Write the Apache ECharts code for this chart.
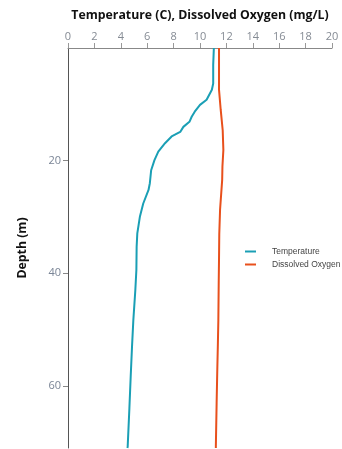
<!DOCTYPE html>
<html>
<head>
<meta charset="utf-8">
<script src="https://cdn.jsdelivr.net/npm/echarts@6/dist/echarts.min.js"></script>
<style>
  html, body { margin: 0; padding: 0; background: #fff; }
  #chart { width: 342px; height: 449px; }
</style>
</head>
<body>
<div id="chart"></div>
<script>
// Vertical profile readings: [value, depth in metres]
const temperatureProfile = [
  [11.05, 0], [11.0, 3], [11.0, 6.3], [10.9, 7.4], [10.5, 9.2], [10.0, 10.1],
  [9.6, 11.3], [9.37, 12.2], [9.2, 13.1], [8.74, 14.0], [8.5, 14.9],
  [7.85, 15.7], [7.35, 16.9], [6.84, 18.4], [6.55, 19.9], [6.3, 21.7],
  [6.2, 24.0], [6.1, 25.2], [5.7, 27.6], [5.45, 29.9], [5.25, 32.9],
  [5.2, 35.3], [5.18, 39.4], [5.1, 43.0], [4.95, 48.3], [4.85, 53.0],
  [4.75, 58.3], [4.65, 64.0], [4.52, 70.8], [4.5, 71]
];
const oxygenProfile = [
  [11.44, 0], [11.44, 4], [11.44, 7.4], [11.57, 11.0], [11.72, 14.6],
  [11.77, 18.1], [11.7, 21.0], [11.68, 23.4], [11.52, 28.7], [11.46, 33.0],
  [11.44, 37.6], [11.42, 41.2], [11.39, 48.3], [11.35, 53.0], [11.31, 57.1],
  [11.26, 63.0], [11.2, 70.8], [11.2, 71]
];
const seriesNames = ['Temperature', 'Dissolved Oxygen'];
const seriesColors = ['#1a9fb5', '#e8501c'];
const valueTicks = { min: 0, max: 20, interval: 2 };
const depthTicks = { min: 0, max: 71, interval: 20 };

const chart = echarts.init(document.getElementById('chart'));
chart.setOption({
  animation: false,
  backgroundColor: '#fff',
  grid: { left: 68, right: 10, top: 48, bottom: 1 },
  legend: {
    orient: 'vertical',
    left: 245,
    top: 247,
    width: 97,
    padding: 0,
    itemWidth: 11,
    itemHeight: 2,
    itemGap: 4,
    icon: 'rect',
    data: seriesNames,
    textStyle: {
      fontFamily: 'Liberation Sans',
      fontSize: 8.5,
      color: '#444',
      padding: [0, 0, 0, 11]
    }
  },
  xAxis: {
    type: 'value',
    position: 'top',
    min: valueTicks.min,
    max: valueTicks.max,
    interval: valueTicks.interval,
    name: 'Temperature (C), Dissolved Oxygen (mg/L)',
    nameLocation: 'middle',
    nameGap: 27,
    nameTextStyle: { fontFamily: 'Open Sans', fontWeight: 'bold', fontSize: 12.3, color: '#111' },
    axisLine: { lineStyle: { color: '#888', width: 1 } },
    axisTick: { show: true, length: 5, lineStyle: { color: '#999' } },
    axisLabel: { fontFamily: 'Open Sans', fontSize: 11, color: '#858b94', margin: 6 },
    splitLine: { show: false }
  },
  yAxis: {
    type: 'value',
    inverse: true,
    min: depthTicks.min,
    max: depthTicks.max,
    interval: depthTicks.interval,
    name: 'Depth (m)',
    nameLocation: 'middle',
    nameGap: 40,
    nameTextStyle: { fontFamily: 'Open Sans', fontWeight: 'bold', fontSize: 12.3, color: '#111' },
    axisLine: { show: true, lineStyle: { color: '#555', width: 1 } },
    axisTick: { show: true, length: 5, lineStyle: { color: '#888' } },
    axisLabel: { fontFamily: 'Open Sans', fontSize: 11, color: '#7a8596', margin: 7, showMinLabel: false, showMaxLabel: false },
    splitLine: { show: false }
  },
  series: [
    {
      name: seriesNames[0],
      type: 'line',
      data: temperatureProfile,
      showSymbol: false,
      symbol: 'none',
      color: seriesColors[0],
      lineStyle: { width: 2, color: seriesColors[0] }
    },
    {
      name: seriesNames[1],
      type: 'line',
      data: oxygenProfile,
      showSymbol: false,
      symbol: 'none',
      color: seriesColors[1],
      lineStyle: { width: 2, color: seriesColors[1] }
    }
  ]
});
</script>
</body>
</html>
